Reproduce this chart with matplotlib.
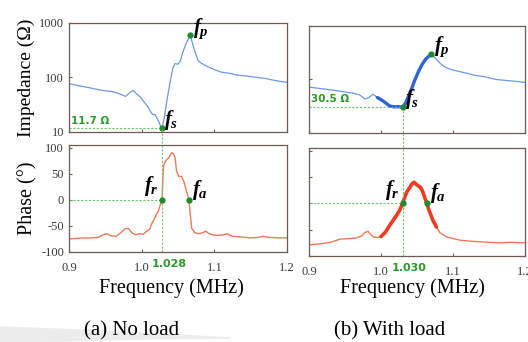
import numpy as np
import matplotlib
matplotlib.use("Agg")
import matplotlib.pyplot as plt
from matplotlib.patches import Polygon

plt.rcParams["mathtext.fontset"] = "custom"
plt.rcParams["mathtext.it"] = "Liberation Serif:italic:bold"
plt.rcParams["mathtext.rm"] = "Liberation Serif"

# ---- data: no load ----
freq_a_z = [0.900, 0.910, 0.920, 0.930, 0.940, 0.950, 0.960, 0.970, 0.978, 0.983,
            0.988, 0.993, 0.998, 1.003, 1.008, 1.012, 1.015, 1.018, 1.020, 1.023,
            1.026, 1.028, 1.031, 1.035, 1.039, 1.043, 1.046, 1.050, 1.053, 1.057,
            1.062, 1.067, 1.070, 1.074, 1.078, 1.083, 1.090, 1.100, 1.110, 1.120,
            1.130, 1.140, 1.150, 1.160, 1.170, 1.180, 1.190, 1.200]
imp_a = [77, 72, 68, 64, 60, 57, 55, 50, 45, 52,
         58, 50, 44, 36, 30, 24, 21, 21, 19, 16,
         13, 11.7, 18, 40, 80, 150, 180, 175, 200, 300,
         450, 590, 420, 280, 200, 180, 160, 140, 125, 120,
         112, 108, 104, 100, 96, 90, 85, 82]

freq_a_p = [0.900, 0.910, 0.920, 0.930, 0.940, 0.947, 0.952, 0.958, 0.965, 0.972,
            0.978, 0.982, 0.987, 0.992, 0.997, 1.002, 1.007, 1.011, 1.014, 1.017,
            1.020, 1.023, 1.025, 1.028, 1.030, 1.033, 1.037, 1.041, 1.044, 1.046,
            1.048, 1.051, 1.055, 1.058, 1.062, 1.065, 1.067, 1.069, 1.073, 1.078,
            1.084, 1.088, 1.093, 1.100, 1.110, 1.118, 1.125, 1.135, 1.150, 1.160,
            1.167, 1.175, 1.190, 1.200]
phase_a = [-75, -74, -73, -73, -72, -67, -65, -69, -70, -62,
           -55, -55, -64, -67, -65, -66, -60, -57, -45, -38,
           -28, -22, -12, 0, 65, 75, 80, 90, 88, 80,
           55, 45, 45, 35, 15, 0, -30, -55, -63, -65,
           -63, -60, -65, -68, -68, -65, -70, -71, -73, -72,
           -70, -72, -73, -73]

# ---- data: with load ----
freq_b_z = [0.900, 0.915, 0.930, 0.945, 0.960, 0.970, 0.978, 0.983, 0.989, 0.995,
            1.000, 1.006, 1.012, 1.018, 1.024, 1.030, 1.034, 1.038, 1.043, 1.047,
            1.052, 1.057, 1.062, 1.066, 1.070, 1.075, 1.080, 1.085, 1.091, 1.100,
            1.110, 1.120, 1.130, 1.145, 1.160, 1.170, 1.185, 1.200]
imp_b = [72, 68, 64, 60, 56, 52, 43, 46, 53, 46,
         42, 37, 32, 30.8, 31, 30.5, 36, 48, 70, 98,
         140, 190, 240, 270, 300, 255, 215, 185, 165, 150,
         140, 130, 120, 112, 100, 97, 93, 88]

freq_b_p = [0.900, 0.915, 0.930, 0.943, 0.955, 0.965, 0.973, 0.978, 0.982, 0.986,
            0.990, 0.995, 1.000, 1.006, 1.012, 1.018, 1.022, 1.026, 1.030, 1.033,
            1.036, 1.040, 1.043, 1.046, 1.049, 1.052, 1.055, 1.058, 1.061, 1.0635,
            1.067, 1.072, 1.077, 1.082, 1.090, 1.100, 1.110, 1.125, 1.140, 1.150,
            1.165, 1.180, 1.200]
phase_b = [-79, -77, -74, -68, -67, -66, -62, -55, -53, -60,
           -64, -65, -63, -55, -42, -30, -22, -13, 0, 12,
           22, 30, 37, 40, 36, 33, 30, 22, 10, 0,
           -14, -32, -45, -56, -63, -67, -70, -72, -73, -74,
           -75, -74, -75]

# characteristic frequencies (MHz) and impedances (ohm)
fs_a, zs_a, fp_a, zp_a = 1.028, 11.7, 1.067, 590
fr_a, fa_a = 1.028, 1.065
fs_b, zs_b, fp_b, zp_b = 1.030, 30.5, 1.070, 300
fr_b, fa_b = 1.030, 1.0635

xticks = [0.9, 1.0, 1.1, 1.2]
imp_ticks = [10, 100, 1000]
phase_ticks = [-100, -50, 0, 50, 100]

BLUE = "#6a98e8"
BLUE_D = "#2f62d6"
RED = "#f3785a"
RED_D = "#f03a22"
GREEN = "#1f8a2a"
GTEXT = "#2a9a2a"
GLINE = "#6cc46c"
SPINE = "#6b5a55"
TICKC = "#3a3a3a"

W, H = 528, 342
fig = plt.figure(figsize=(W / 100, H / 100), dpi=100)


def box(x0, y0, x1, y1):
    return [x0 / W, 1 - y1 / H, (x1 - x0) / W, (y1 - y0) / H]


ax_az = fig.add_axes(box(69, 23, 287, 132))
ax_ap = fig.add_axes(box(69, 145, 287, 252))
ax_bz = fig.add_axes(box(309, 26, 525, 133))
ax_bp = fig.add_axes(box(309, 148, 525, 256))

serif = "Liberation Serif"
for ax in (ax_az, ax_ap, ax_bz, ax_bp):
    ax.set_xlim(0.9, 1.2)
    ax.set_xticks(xticks)
    for s in ax.spines.values():
        s.set_color(SPINE)
        s.set_linewidth(0.9)
    ax.tick_params(direction="in", length=2.5, width=0.8, colors=SPINE,
                   labelcolor=TICKC, labelsize=9)
    ax.tick_params(axis="x", pad=7)

for ax in (ax_az, ax_bz):
    ax.set_yscale("log")
    ax.set_ylim(10, 1000)
    ax.set_yticks(imp_ticks)
    ax.minorticks_off()
    ax.set_xticklabels([])
for ax in (ax_ap, ax_bp):
    ax.set_ylim(-100, 105)
    ax.set_yticks(phase_ticks)
    ax.set_xticklabels([f"{t:.1f}" for t in xticks], fontfamily=serif)

ax_az.set_yticklabels(["10", "100", "1000"], fontfamily=serif)
ax_ap.set_yticklabels([str(t) for t in phase_ticks], fontfamily=serif)
ax_bz.set_yticklabels([])
ax_bp.set_yticklabels([])

# curves
ax_az.plot(freq_a_z, imp_a, color=BLUE, lw=0.9)
ax_ap.plot(freq_a_p, phase_a, color=RED, lw=1.0)

fbz = np.array(freq_b_z)
zb = np.array(imp_b)
ax_bz.plot(fbz, zb, color=BLUE, lw=0.9)
m = (fbz >= 0.995) & (fbz <= 1.072)
ax_bz.plot(fbz[m], zb[m], color=BLUE_D, lw=2.4, solid_capstyle="round")

fbp = np.array(freq_b_p)
pb = np.array(phase_b)
ax_bp.plot(fbp, pb, color=RED, lw=1.0)
m = (fbp >= 1.0) & (fbp <= 1.08)
ax_bp.plot(fbp[m], pb[m], color=RED_D, lw=2.6, solid_capstyle="round")

# guide lines and markers
dash = dict(color=GLINE, lw=0.8, ls=(0, (2, 1.5)))
for axz, axp, fs, zs, fp, zp, fr, fa, lab in (
        (ax_az, ax_ap, fs_a, zs_a, fp_a, zp_a, fr_a, fa_a, "11.7 Ω"),
        (ax_bz, ax_bp, fs_b, zs_b, fp_b, zp_b, fr_b, fa_b, "30.5 Ω")):
    axz.plot([0.9, fs], [zs, zs], **dash)
    axz.plot([fs, fs], [zs, 10], **dash)
    axp.plot([fr, fr], [-100, 135], clip_on=False, **dash)
    axp.plot([0.9, fr], [0, 0], **dash)
    axz.plot([fs, fp], [zs, zp], ls="none", marker="o", ms=3.5, color=GREEN)
    axp.plot([fr, fa], [0, 0], ls="none", marker="o", ms=3.5, color=GREEN)
    axz.text(0.903, zs * 1.12, lab, color=GTEXT, fontsize=7.5,
             fontweight="bold", ha="left", va="bottom")
    axz.text(fs + 0.003, zs * 0.85, r"$f_s$", fontsize=15, ha="left", va="bottom")
    axz.text(fp + 0.004, zp * 0.8, r"$f_p$", fontsize=15, ha="left", va="bottom")
    axp.text(fr - 0.004, 3, r"$f_r$", fontsize=15, ha="right", va="bottom")
    axp.text(fa + 0.004, -4, r"$f_a$", fontsize=15, ha="left", va="bottom")
    axp.text(fr + 0.0095, -113, f"{fr:.3f}", color=GTEXT, fontsize=8,
             fontweight="bold", ha="center", va="top")

ax_az.set_ylabel("Impedance (Ω)", fontfamily=serif, fontsize=14, labelpad=3)
ax_ap.set_ylabel("Phase (°)", fontfamily=serif, fontsize=14.5, labelpad=3)
for ax in (ax_ap, ax_bp):
    ax.set_xlabel("Frequency (MHz)", fontfamily=serif, fontsize=14.5)
ax_ap.xaxis.set_label_coords(0.47, -0.245)
ax_bp.xaxis.set_label_coords(0.48, -0.205)

fig.text(132 / W, 1 - 331 / H, "(a) No load", fontfamily=serif, fontsize=15,
         ha="center", va="center")
fig.text(390 / W, 1 - 331 / H, "(b) With load", fontfamily=serif, fontsize=15,
         ha="center", va="center")

# faint grey sweep in the lower-left corner
sweep = Polygon([(0, 15 / H), (80 / W, 12 / H), (160 / W, 8 / H), (230 / W, 4 / H),
                 (150 / W, 3 / H), (60 / W, 1 / H), (0, 0)],
                closed=True, transform=fig.transFigure, color="#ececec", zorder=-1)
fig.patches.append(sweep)

fig.savefig("out.png", dpi=100)
